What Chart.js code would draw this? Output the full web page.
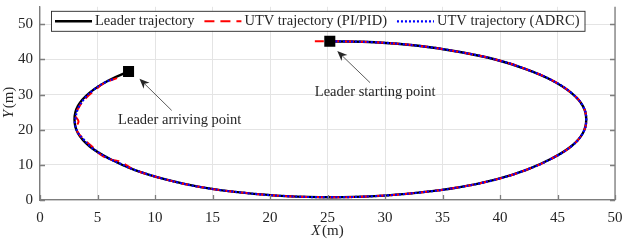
<!DOCTYPE html>
<html><head><meta charset="utf-8">
<script src="https://cdn.jsdelivr.net/npm/chart.js@4"></script>
<style>
html,body{margin:0;padding:0;background:#fff;overflow:hidden;width:623px;height:242px;}
#wrap{position:absolute;left:0;top:-1px;width:623px;height:243px;}
</style></head><body>
<div id="wrap"><canvas id="c" width="623" height="243"></canvas></div>
<script>
// ---- data ----
const seriesLabels = ['Leader trajectory', 'UTV trajectory (PI/PID)', 'UTV trajectory (ADRC)'];
const leaderX = [25.3, 29.1, 32.9, 36.4, 39.6, 42.3, 44.5, 46.2, 47.2, 47.5, 47.2, 46.2, 44.5, 42.3, 39.6, 36.4, 32.9, 29.1, 25.3, 21.4, 17.6, 14.1, 11.0, 8.2, 6.0, 4.3, 3.3, 3.0, 3.3, 4.3, 6.0, 7.7];
const leaderY = [45.2, 44.9, 43.9, 42.2, 40.0, 37.2, 34.1, 30.5, 26.8, 22.9, 19.0, 15.3, 11.8, 8.6, 5.8, 3.6, 2.1, 1.1, 0.8, 1.1, 2.1, 3.6, 5.8, 8.6, 11.8, 15.3, 19.0, 22.9, 26.8, 30.5, 34.1, 36.6];
const pidX = [23.9, 25.3, 29.1, 32.9, 36.4, 39.6, 42.3, 44.5, 46.2, 47.2, 47.5, 47.2, 46.2, 44.5, 42.3, 39.6, 36.4, 32.9, 29.1, 25.3, 21.4, 17.6, 14.1, 11.0, 8.2, 7.0, 6.2, 5.5, 4.9, 4.5, 3.9, 3.3, 3.2, 3.35, 3.1, 3.4, 4.0, 4.8, 5.6, 6.7];
const pidY = [45.2, 45.2, 44.9, 43.9, 42.2, 40.0, 37.2, 34.1, 30.5, 26.8, 22.9, 19.0, 15.3, 11.8, 8.6, 5.8, 3.6, 2.1, 1.1, 0.8, 1.1, 2.1, 3.6, 5.8, 8.6, 10.9, 11.5, 12.4, 13.9, 15.3, 17.0, 19.2, 21.0, 22.4, 24.0, 26.5, 29.0, 31.3, 33.3, 34.7];
const adrcX = [25.3, 29.1, 32.9, 36.4, 39.6, 42.3, 44.5, 46.2, 47.2, 47.5, 47.2, 46.2, 44.5, 42.3, 39.6, 36.4, 32.9, 29.1, 25.3, 21.4, 17.6, 14.1, 11.0, 8.2, 7.0, 6.0, 5.1, 4.4, 3.8, 3.3, 3.05, 3.1, 3.3, 3.9, 4.6, 5.5, 6.5];
const adrcY = [45.2, 44.9, 43.9, 42.2, 40.0, 37.2, 34.1, 30.5, 26.8, 22.9, 19.0, 15.3, 11.8, 8.6, 5.8, 3.6, 2.1, 1.1, 0.8, 1.1, 2.1, 3.6, 5.8, 8.6, 10.3, 11.8, 13.5, 15.2, 17.2, 19.2, 21.5, 23.5, 26.0, 29.0, 31.2, 33.2, 34.6];
const markerX = [25.2, 7.7];
const markerY = [45.2, 36.6];
const xTickValues = [0, 5, 10, 15, 20, 25, 30, 35, 40, 45, 50];
const yTickValues = [0, 10, 20, 30, 40, 50];
const annotationTexts = ['Leader starting point', 'Leader arriving point'];

// ---- styling / layout ----
const axisColor = '#7d7d7d';
const textColor = '#262626';
const gridColor = '#e4e4e4';
const textFont = "14.5px 'Liberation Serif'";
const lineStyles = [
  {color: '#000000', width: 2.4, dash: []},
  {color: '#ff0000', width: 2, dash: [9, 6]},
  {color: '#0000ff', width: 2.2, dash: [2, 2]}
];
const annotationLayout = [
  {tx: 29.15, ty: 30.6, from: [28.7, 33.4], to: [25.85, 42.4]},
  {tx: 12.15, ty: 22.8, from: [11.45, 25.5], to: [8.65, 34.5]}
];

const pts = (xs, ys) => xs.map((v, i) => ({x: v, y: ys[i]}));

function drawArrow(ctx, x1, y1, x2, y2) {
  const ang = Math.atan2(y2 - y1, x2 - x1);
  const L = 10, W = 4.2, back = 7;
  ctx.beginPath();
  ctx.moveTo(x1, y1);
  ctx.lineTo(x2 - Math.cos(ang) * back, y2 - Math.sin(ang) * back);
  ctx.stroke();
  const bx = x2 - Math.cos(ang) * L, by = y2 - Math.sin(ang) * L;
  const nx = -Math.sin(ang), ny = Math.cos(ang);
  const mx = x2 - Math.cos(ang) * back, my = y2 - Math.sin(ang) * back;
  ctx.beginPath();
  ctx.moveTo(x2, y2);
  ctx.lineTo(bx + nx * W, by + ny * W);
  ctx.lineTo(mx, my);
  ctx.lineTo(bx - nx * W, by - ny * W);
  ctx.closePath();
  ctx.fill();
}

const overlay = {
  id: 'overlay',
  afterDraw(chart) {
    const {ctx, chartArea: a, scales: {x, y}} = chart;
    ctx.save();
    // right border and inward ticks
    ctx.strokeStyle = axisColor;
    ctx.lineWidth = 1.3;
    ctx.beginPath();
    ctx.moveTo(a.right, a.top); ctx.lineTo(a.right, a.bottom);
    for (const v of xTickValues) {
      const px = Math.round(x.getPixelForValue(v)) + 0.5;
      ctx.moveTo(px, a.bottom); ctx.lineTo(px, a.bottom - 5);
    }
    for (const v of yTickValues) {
      const py = Math.round(y.getPixelForValue(v)) + 0.5;
      ctx.moveTo(a.left, py); ctx.lineTo(a.left + 5, py);
      ctx.moveTo(a.right, py); ctx.lineTo(a.right - 5, py);
    }
    ctx.stroke();

    // annotations
    ctx.strokeStyle = '#333333';
    ctx.fillStyle = textColor;
    ctx.lineWidth = 0.8;
    ctx.font = textFont;
    ctx.textAlign = 'center';
    ctx.textBaseline = 'middle';
    annotationLayout.forEach((an, i) => {
      drawArrow(ctx, x.getPixelForValue(an.from[0]), y.getPixelForValue(an.from[1]),
                x.getPixelForValue(an.to[0]), y.getPixelForValue(an.to[1]));
      ctx.fillText(annotationTexts[i], x.getPixelForValue(an.tx), y.getPixelForValue(an.ty));
    });

    // axis titles
    const drawTitle = (cx, cy, rot, letter) => {
      ctx.save();
      ctx.translate(cx, cy);
      ctx.rotate(rot);
      ctx.textBaseline = 'middle';
      ctx.font = "italic 15px 'Liberation Serif'";
      const w1 = ctx.measureText(letter).width;
      ctx.font = "15px 'Liberation Serif'";
      const w2 = ctx.measureText('(m)').width;
      const total = w1 + 1.5 + w2;
      ctx.textAlign = 'left';
      ctx.font = "italic 15px 'Liberation Serif'";
      ctx.fillText(letter, -total / 2, 0);
      ctx.font = "15px 'Liberation Serif'";
      ctx.fillText('(m)', -total / 2 + w1 + 1.5, 0);
      ctx.restore();
    };
    drawTitle((a.left + a.right) / 2, a.bottom + 31.5, 0, 'X');
    drawTitle(9, (a.top + a.bottom) / 2 - 1, -Math.PI / 2, 'Y');

    // legend
    ctx.font = textFont;
    const left = a.left + 11, top = a.top + 4, h = 20;
    let cur = left + 4;
    const items = [];
    seriesLabels.forEach((lab) => {
      const tw = ctx.measureText(lab).width;
      items.push({x: cur, tw});
      cur += 40 + tw + 10;
    });
    const right = cur - 10 + 5;
    ctx.fillStyle = '#ffffff';
    ctx.fillRect(left, top, right - left, h);
    ctx.strokeStyle = textColor;
    ctx.lineWidth = 0.9;
    ctx.strokeRect(left + 0.5, top + 0.5, right - left, h);
    const cy = top + h / 2 + 0.5;
    seriesLabels.forEach((lab, i) => {
      const it = items[i], st = lineStyles[i];
      ctx.strokeStyle = st.color;
      ctx.lineWidth = st.width;
      ctx.setLineDash(i === 1 ? [10, 6] : st.dash);
      ctx.beginPath();
      ctx.moveTo(it.x, cy); ctx.lineTo(it.x + 37, cy);
      ctx.stroke();
      ctx.setLineDash([]);
      ctx.fillStyle = textColor;
      ctx.textAlign = 'left';
      ctx.textBaseline = 'middle';
      ctx.fillText(lab, it.x + 40, cy);
    });
    ctx.restore();
  }
};

const mkLine = (i, data, order) => ({
  label: seriesLabels[i],
  data,
  showLine: true,
  borderColor: lineStyles[i].color,
  borderWidth: lineStyles[i].width,
  borderDash: lineStyles[i].dash,
  pointRadius: 0,
  tension: 0.4,
  fill: false,
  order
});

new Chart(document.getElementById('c'), {
  type: 'scatter',
  data: {
    datasets: [
      mkLine(0, pts(leaderX, leaderY), 3),
      mkLine(1, pts(pidX, pidY), 2),
      mkLine(2, pts(adrcX, adrcY), 1),
      {
        label: 'markers',
        data: pts(markerX, markerY),
        showLine: false,
        pointStyle: 'rect',
        pointRadius: 7.8,
        pointBackgroundColor: '#000',
        pointBorderWidth: 0,
        order: 0
      }
    ]
  },
  options: {
    responsive: false,
    animation: false,
    events: [],
    layout: {padding: {left: 0, right: 8, top: 0, bottom: 0}},
    plugins: {legend: {display: false}, tooltip: {enabled: false}},
    scales: {
      x: {
        type: 'linear', min: 0, max: 50,
        afterBuildTicks: s => { s.ticks = xTickValues.map(v => ({value: v})); },
        afterFit: s => { s.height = 42; s.paddingLeft = 0; s.paddingRight = 0; },
        grid: {color: gridColor, lineWidth: 1, drawTicks: false},
        border: {display: true, color: axisColor, width: 1.3},
        ticks: {font: {family: 'Liberation Serif', size: 15}, color: textColor, padding: 9, maxRotation: 0, autoSkip: false}
      },
      y: {
        type: 'linear', min: 0, max: 55,
        afterBuildTicks: s => { s.ticks = yTickValues.map(v => ({value: v})); },
        afterFit: s => { s.width = 40; s.paddingTop = 0; s.paddingBottom = 0; },
        grid: {color: gridColor, lineWidth: 1, drawTicks: false},
        border: {display: true, color: axisColor, width: 1.3},
        ticks: {font: {family: 'Liberation Serif', size: 15}, color: textColor, padding: 7, autoSkip: false}
      }
    }
  },
  plugins: [overlay]
});
</script>
</body></html>
